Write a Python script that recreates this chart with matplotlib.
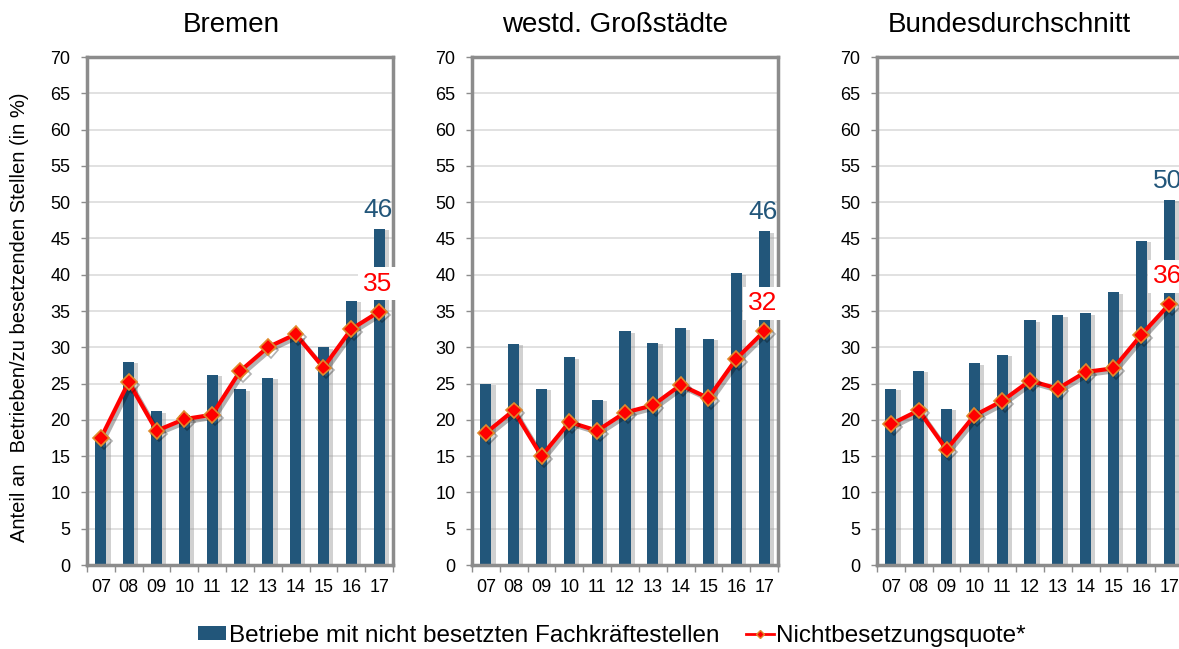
import numpy as np
import matplotlib
matplotlib.use('Agg')
import matplotlib.pyplot as plt
import matplotlib.patheffects as pe
from matplotlib.lines import Line2D
from matplotlib.patches import Patch

plt.rcParams['font.family'] = ['Liberation Sans', 'DejaVu Sans']

years = ['07', '08', '09', '10', '11', '12', '13', '14', '15', '16', '17']
titles = ['Bremen', 'westd. Großstädte', 'Bundesdurchschnitt']

bremen_bars = [17.5, 28.0, 21.2, 20.7, 26.2, 24.2, 25.8, 31.5, 30.0, 36.4, 46.3]
bremen_line = [17.5, 25.2, 18.5, 20.1, 20.7, 26.7, 30.0, 31.8, 27.2, 32.5, 34.9]
gross_bars = [25.0, 30.5, 24.3, 28.6, 22.8, 32.2, 30.6, 32.6, 31.2, 40.2, 46.0]
gross_line = [18.2, 21.3, 15.0, 19.7, 18.5, 21.0, 22.0, 24.8, 23.0, 28.4, 32.2]
bund_bars = [24.3, 26.8, 21.5, 27.8, 29.0, 33.7, 34.4, 34.7, 37.6, 44.7, 50.3]
bund_line = [19.4, 21.3, 15.9, 20.6, 22.6, 25.4, 24.3, 26.6, 27.1, 31.7, 35.9]

bar_labels = ['46', '46', '50']
line_labels = ['35', '32', '36']

bars_all = [bremen_bars, gross_bars, bund_bars]
lines_all = [bremen_line, gross_line, bund_line]

bar_col = '#22567a'
line_col = '#ff0000'
frame_col = '#8c8c8c'

W, H = 1179, 649
fig = plt.figure(figsize=(W / 100, H / 100), dpi=100)

lefts = [87, 472, 877]
width = 306
top, bottom = 57, 565
title_x = [231, 615, 1009]

for i in range(3):
    ax = fig.add_axes([lefts[i] / W, 1 - bottom / H, width / W, (bottom - top) / H])
    x = np.arange(len(years))
    b = ax.bar(x, bars_all[i], width=0.4, color=bar_col, zorder=2)
    for p in b:
        p.set_path_effects([pe.SimplePatchShadow(offset=(3, -1), shadow_rgbFace='#999999', alpha=0.45), pe.Normal()])
    ax.plot(x, lines_all[i], color=line_col, lw=3, marker='D', ms=8,
            mfc=line_col, mec='#e08a2c', mew=1.2, zorder=4,
            path_effects=[pe.SimpleLineShadow(offset=(2, -2), alpha=0.3), pe.Normal()])
    ax.set_xlim(-0.5, len(years) - 0.5)
    ax.set_ylim(0, 70)
    ax.set_yticks(range(0, 71, 5))
    ax.set_xticks(x)
    ax.set_xticklabels(years)
    ax.set_xticks(np.arange(-0.5, len(years), 1), minor=True)
    ax.tick_params(axis='x', which='major', length=0, labelsize=13, pad=10)
    ax.tick_params(axis='x', which='minor', length=5, color=frame_col, width=1)
    ax.tick_params(axis='y', length=4, color=frame_col, width=1, labelsize=13, pad=8)
    ax.yaxis.grid(True, color='#dcdcdc', lw=1.2, zorder=0)
    ax.set_axisbelow(True)
    for s in ax.spines.values():
        s.set_color(frame_col)
        s.set_linewidth(2.5)
    last = len(years) - 1
    ax.text(last - 0.05, bars_all[i][-1] + 1.7, bar_labels[i], color=bar_col,
            fontsize=19, ha='center', va='baseline', zorder=6, clip_on=False)
    ax.text(last - 0.05, lines_all[i][-1] + 2.9, line_labels[i], color=line_col,
            fontsize=19, ha='center', va='baseline', zorder=6, clip_on=False,
            bbox=dict(facecolor='white', edgecolor='none', pad=3.5))
    fig.text(title_x[i] / W, 1 - 25 / H, titles[i], fontsize=20, ha='center', va='center')

fig.text(20 / W, 1 - 317 / H, 'Anteil an  Betrieben/zu besetzenden Stellen (in %)',
         rotation=90, fontsize=14.5, ha='center', va='center')

handles = [Patch(facecolor=bar_col, edgecolor='none'),
           Line2D([0], [0], color=line_col, lw=2, marker='D', ms=4, mfc=line_col, mec='#e08a2c')]
fig.legend(handles, ['Betriebe mit nicht besetzten Fachkräftestellen', 'Nichtbesetzungsquote*'],
           loc='center', bbox_to_anchor=(612 / W, 1 - 636 / H), ncol=2, frameon=False,
           fontsize=17.5, handlelength=1.15, handleheight=0.5, handletextpad=0.1, columnspacing=1.1)

fig.savefig('out.png', dpi=100)
